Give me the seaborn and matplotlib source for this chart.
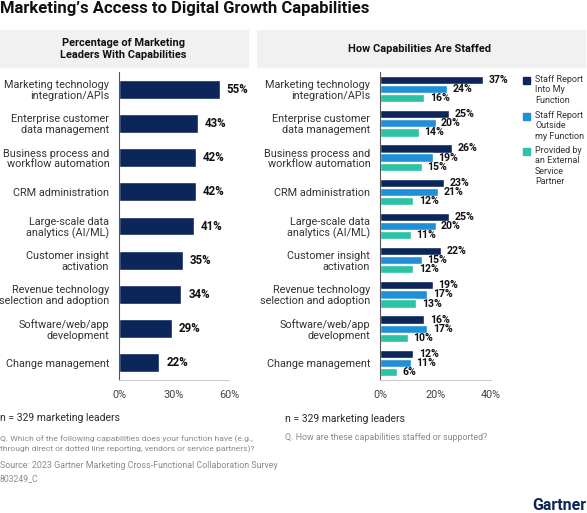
import matplotlib
matplotlib.use("Agg")
import matplotlib.pyplot as plt
import matplotlib.patches as mpatches
import seaborn as sns
import pandas as pd

capabilities = [
    "Marketing technology\nintegration/APIs",
    "Enterprise customer\ndata management",
    "Business process and\nworkflow automation",
    "CRM administration",
    "Large-scale data\nanalytics (AI/ML)",
    "Customer insight\nactivation",
    "Revenue technology\nselection and adoption",
    "Software/web/app\ndevelopment",
    "Change management",
]
pct_with_capability = [55, 43, 42, 42, 41, 35, 34, 29, 22]

staff_into = [37, 25, 26, 23, 25, 22, 19, 16, 12]
staff_outside = [24, 20, 19, 21, 20, 15, 17, 17, 11]
external = [16, 14, 15, 12, 11, 12, 13, 10, 6]
series_names = ["Staff Report\nInto My\nFunction",
                "Staff Report\nOutside\nmy Function",
                "Provided by\nan External\nService\nPartner"]

NAVY = "#0c2659"
BLUE = "#1f8fd6"
TEAL = "#2bc2a6"
GRAY_TXT = "#8a8a8a"
DARK_TXT = "#2b2b2b"
palette = [NAVY, BLUE, TEAL]

sns.set_theme(style="white")
plt.rcParams["font.family"] = ["Roboto", "DejaVu Sans"]

W, H = 587, 513
fig = plt.figure(figsize=(W / 100, H / 100), dpi=100)


def box(x, y, w, h):
    # pixel box (top-left origin) -> figure fraction rect
    return [x / W, 1 - (y + h) / H, w / W, h / H]


def ftext(x, y, s, **kw):
    fig.text(x / W, 1 - y / H, s, **kw)


# title and header panels
ftext(0, 8, "Marketing\u2019s Access to Digital Growth Capabilities",
      fontsize=12, fontweight="bold", va="center", color="#111111")
fig.patches.append(mpatches.Rectangle((0, 1 - 67 / H), 248 / W, 37 / H,
                                      transform=fig.transFigure, color="#f1f1f1", zorder=0))
fig.patches.append(mpatches.Rectangle((257 / W, 1 - 67 / H), 328 / W, 37 / H,
                                      transform=fig.transFigure, color="#f1f1f1", zorder=0))
ftext(123, 49, "Percentage of Marketing\nLeaders With Capabilities", fontsize=7.9,
      fontweight="bold", ha="center", va="center", linespacing=1.2, color="#111111")
ftext(420, 49, "How Capabilities Are Staffed", fontsize=7.9,
      fontweight="bold", ha="center", va="center", color="#111111")

# left panel
left_df = pd.DataFrame({"capability": capabilities, "pct": pct_with_capability})
ax1 = fig.add_axes(box(119, 72, 110, 308))
sns.barplot(data=left_df, x="pct", y="capability", color=NAVY, width=0.55,
            saturation=1, ax=ax1)
ax1.set_xlim(0, 60)
ax1.set_xticks([0, 30, 60])
ax1.set_xticklabels(["0%", "30%", "60%"])
for container in ax1.containers:
    ax1.bar_label(container, labels=[f"{int(b.get_width())}%" for b in container],
                  padding=5, fontsize=8.3, fontweight="bold", color="#111111")

# right panel
right_df = pd.DataFrame({
    "capability": capabilities * 3,
    "series": [series_names[0]] * 9 + [series_names[1]] * 9 + [series_names[2]] * 9,
    "pct": staff_into + staff_outside + external,
})
ax2 = fig.add_axes(box(380, 72, 111, 308))
sns.barplot(data=right_df, x="pct", y="capability", hue="series",
            palette=palette, width=0.8, gap=0.1, saturation=1, legend=False, ax=ax2)
ax2.set_xlim(0, 40)
ax2.set_xticks([0, 20, 40])
ax2.set_xticklabels(["0%", "20%", "40%"])
for container in ax2.containers:
    ax2.bar_label(container, labels=[f"{int(b.get_width())}%" for b in container],
                  padding=4, fontsize=7.6, fontweight="bold", color="#111111")

# legend: small squares aligned with the first line of each label
legend_tops = [77, 113, 148]
for name, color, top in zip(series_names, palette, legend_tops):
    fig.patches.append(mpatches.Rectangle((523 / W, 1 - (top + 7) / H), 7 / W, 7 / H,
                                          transform=fig.transFigure, color=color))
    ftext(535, top - 2, name, fontsize=6.5, va="top", ha="left",
          linespacing=1.2, color="#333333")

for ax in (ax1, ax2):
    ax.set_xlabel("")
    ax.set_ylabel("")
    sns.despine(ax=ax, top=True, right=True)
    ax.spines["left"].set_color("#555555")
    ax.spines["left"].set_linewidth(0.8)
    ax.spines["bottom"].set_color("#cccccc")
    ax.spines["bottom"].set_linewidth(0.8)
    ax.tick_params(axis="y", length=0, pad=7, labelsize=7.8, labelcolor="#333333")
    ax.tick_params(axis="x", length=0, pad=7, labelsize=7.8, labelcolor="#444444")
    for lab in ax.get_yticklabels():
        lab.set_multialignment("right")
        lab.set_linespacing(1.1)

# footer notes
ftext(0, 418, "n = 329 marketing leaders", fontsize=7.5, va="center", color=DARK_TXT)
ftext(285, 419, "n = 329 marketing leaders", fontsize=7.5, va="center", color=DARK_TXT)
ftext(0, 444, "Q. Which of the following capabilities does your function have (e.g.,\n"
      "through direct or dotted line reporting, vendors or service partners)?",
      fontsize=6.1, va="center", color=GRAY_TXT, linespacing=1.35)
ftext(285, 438, "Q. How are these capabilities staffed or supported?",
      fontsize=6.4, va="center", color=GRAY_TXT)
ftext(0, 465, "Source: 2023 Gartner Marketing Cross-Functional Collaboration Survey",
      fontsize=6.4, va="center", color=GRAY_TXT)
ftext(0, 479, "803249_C", fontsize=6.2, va="center", color=GRAY_TXT)
ftext(586, 505, "Gartner", fontsize=11.5, fontweight="bold", ha="right", va="center",
      color=NAVY)

fig.savefig("out.png", dpi=100)
